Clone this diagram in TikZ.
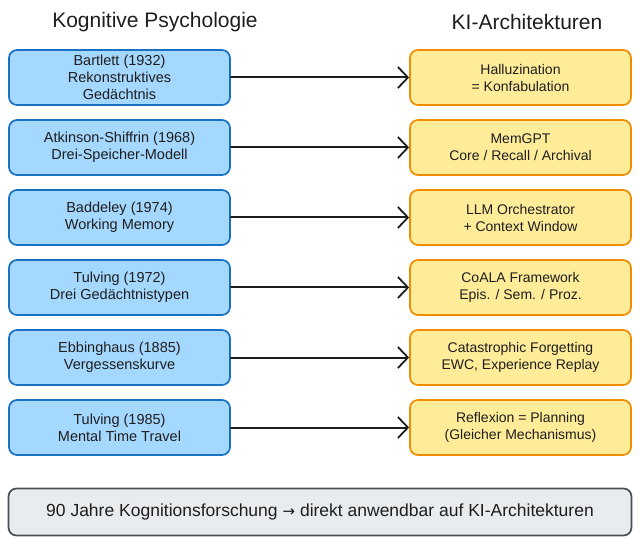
\documentclass[tikz,border=0pt]{standalone}
\usepackage{fontspec}
\setmainfont{Liberation Sans}
\newfontfamily\symfont{DejaVu Sans}
\usetikzlibrary{arrows.meta}
\definecolor{lblue}{HTML}{A5D8FF}
\definecolor{dblue}{HTML}{1971C2}
\definecolor{lyel}{HTML}{FFEC99}
\definecolor{dora}{HTML}{F08C00}
\definecolor{lgray}{HTML}{E9ECEF}
\definecolor{dgray}{HTML}{495057}
\definecolor{ink}{HTML}{1E1E1E}
\tikzset{
  psybox/.style={draw=dblue, fill=lblue, line width=1.7pt, rounded corners=8pt,
    minimum width=221pt, minimum height=55pt, align=center, text=ink,
    font=\fontsize{14.5}{17}\selectfont, inner sep=0pt},
  aibox/.style={draw=dora, fill=lyel, line width=1.7pt, rounded corners=8pt,
    minimum width=221pt, minimum height=55pt, align=center, text=ink,
    font=\fontsize{14}{17}\selectfont, inner sep=0pt},
  sumbox/.style={draw=dgray, fill=lgray, line width=1.7pt, rounded corners=8pt,
    minimum width=623pt, minimum height=47pt, align=center, text=ink,
    font=\fontsize{17.5}{20}\selectfont, inner sep=0pt},
  headline/.style={text=ink, font=\fontsize{21}{24}\selectfont},
  link/.style={draw=ink, line width=2pt, line cap=round,
    -{Straight Barb[length=10pt,width=21pt,line width=1.8pt]}},
}
\begin{document}
\begin{tikzpicture}[x=1pt,y=-1pt]
\useasboundingbox (0,0) rectangle (640,545);
\node[headline] (h1) at (155,22) {Kognitive Psychologie};
\node[headline] (h2) at (527,22) {KI-Architekturen};

\node[psybox] (l1) at (119.5,77.5) {Bartlett (1932)\\Rekonstruktives\\Gedächtnis};
\node[psybox] (l2) at (119.5,147.5) {Atkinson-Shiffrin (1968)\\Drei-Speicher-Modell};
\node[psybox] (l3) at (119.5,217.5) {Baddeley (1974)\\Working Memory};
\node[psybox] (l4) at (119.5,287.5) {Tulving (1972)\\Drei Gedächtnistypen};
\node[psybox] (l5) at (119.5,357.5) {Ebbinghaus (1885)\\Vergessenskurve};
\node[psybox] (l6) at (119.5,427.5) {Tulving (1985)\\Mental Time Travel};

\node[aibox] (r1) at (520.5,77.5) {Halluzination\\= Konfabulation};
\node[aibox] (r2) at (520.5,147.5) {MemGPT\\Core / Recall / Archival};
\node[aibox] (r3) at (520.5,217.5) {LLM Orchestrator\\+ Context Window};
\node[aibox] (r4) at (520.5,287.5) {CoALA Framework\\Epis. / Sem. / Proz.};
\node[aibox] (r5) at (520.5,357.5) {Catastrophic Forgetting\\EWC, Experience Replay};
\node[aibox] (r6) at (520.5,427.5) {Reflexion = Planning\\(Gleicher Mechanismus)};

\foreach \i in {1,...,6}{
  \draw[link] (l\i.east) -- (r\i.west);
}

\node[sumbox] (s) at (320,512) {90 Jahre Kognitionsforschung {\symfont\fontsize{15}{20}\selectfont →} direkt anwendbar auf KI-Architekturen};
\end{tikzpicture}
\end{document}
